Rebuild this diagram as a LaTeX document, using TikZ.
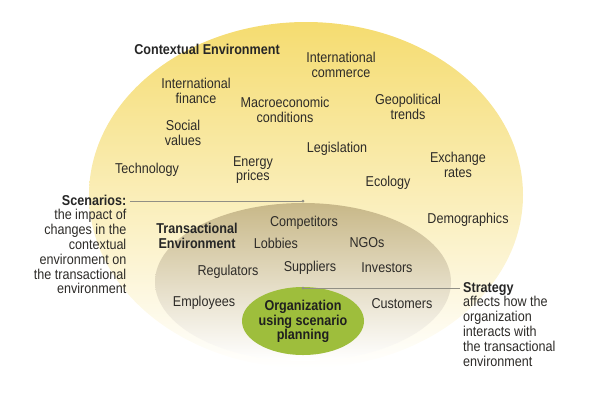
\documentclass[tikz,border=0pt]{standalone}
\usepackage{fontspec}
\setmainfont{Liberation Sans}[FakeStretch=0.88]
\usetikzlibrary{shapes.geometric}
\definecolor{outertop}{RGB}{245,220,112}
\definecolor{outermid}{RGB}{250,236,175}
\definecolor{innertop}{RGB}{200,184,136}
\definecolor{innermid}{RGB}{220,208,172}
\definecolor{orggreen}{RGB}{158,190,60}
\definecolor{txt}{RGB}{45,43,40}
\definecolor{lead}{RGB}{145,143,133}
\tikzset{
  lbl/.style={font=\fontsize{14.3}{14.8}\selectfont, text=txt, align=center, inner sep=0pt},
  hdr/.style={lbl, font=\fontsize{14.3}{14.8}\selectfont\bfseries, text=black!85},
  leader/.style={draw=lead, line width=0.8pt},
  dotmark/.style={circle, fill=lead, inner sep=0pt, minimum size=3pt},
}
\begin{document}
\begin{tikzpicture}[x=1pt,y=-1pt]
\useasboundingbox (0,0) rectangle (589,400);
% ellipses
\node[ellipse, minimum width=434pt, minimum height=346pt, inner sep=0pt,
      top color=outertop, middle color=outermid, bottom color=white] (outer) at (306,195) {};
\node[ellipse, minimum width=296pt, minimum height=158pt, inner sep=0pt,
      top color=innertop, middle color=innermid, bottom color=white] (inner) at (303,282) {};
\node[ellipse, minimum width=122pt, minimum height=68pt, inner sep=0pt, fill=orggreen] (org) at (303,321) {};
% contextual
\node[hdr] (ctx) at (207,49) {Contextual Environment};
\node[lbl] (ifin) at (196,90.5) {International\\finance};
\node[lbl] (icom) at (341,64.5) {International\\commerce};
\node[lbl] (macro) at (285,110) {Macroeconomic\\conditions};
\node[lbl] (geo) at (408,107) {Geopolitical\\trends};
\node[lbl] (soc) at (183,133) {Social\\values};
\node[lbl] (tech) at (147,170) {Technology};
\node[lbl] (energy) at (253,170) {Energy\\prices};
\node[lbl] (legis) at (337,149) {Legislation};
\node[lbl] (exch) at (458,164.5) {Exchange\\rates};
\node[lbl] (eco) at (388,183) {Ecology};
\node[lbl] (demo) at (468,220) {Demographics};
% transactional
\node[hdr] (trans) at (197,236) {Transactional\\Environment};
\node[lbl] (comp) at (304,223) {Competitors};
\node[lbl] (lobby) at (276,243) {Lobbies};
\node[lbl] (ngo) at (367,243) {NGOs};
\node[lbl] (reg) at (228,272) {Regulators};
\node[lbl] (sup) at (310,268) {Suppliers};
\node[lbl] (inv) at (387,268) {Investors};
\node[lbl] (emp) at (204,303) {Employees};
\node[lbl] (cust) at (402,304) {Customers};
\node[hdr, text=black!88] (orgtxt) at (303,321.5) {Organization\\using scenario\\planning};
% side notes
\node[lbl, align=right, anchor=north east] (scen) at (126.5,194.5) {\textbf{\color{black!85}Scenarios:}\\the impact of\\changes in the\\contextual\\environment on\\the transactional\\environment};
\node[lbl, align=left, anchor=north west] (strat) at (463,282) {\textbf{\color{black!85}Strategy}\\affects how the\\organization\\interacts with\\the transactional\\environment};
% leaders
\coordinate (scenstart) at (130,201);
\coordinate (stratend) at (460,288);
\node[dotmark] (scendot) at (303,201) {};
\node[dotmark] (stratdot) at (303,288) {};
\draw[leader] (scenstart) -- (scendot.center);
\draw[leader] (stratdot.center) -- (stratend);
\end{tikzpicture}
\end{document}
